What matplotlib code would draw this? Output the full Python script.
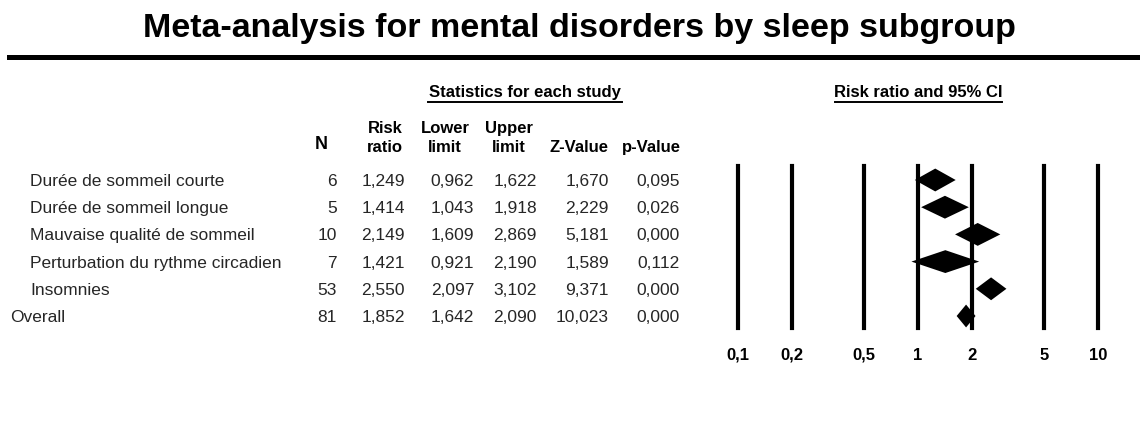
import matplotlib
matplotlib.use("Agg")
import matplotlib.pyplot as plt
from matplotlib.lines import Line2D
from matplotlib.ticker import NullLocator

plt.rcParams['font.family'] = ['Liberation Sans', 'DejaVu Sans']

# ---- data ----
subgroups = ["Durée de sommeil courte", "Durée de sommeil longue",
             "Mauvaise qualité de sommeil", "Perturbation du rythme circadien",
             "Insomnies", "Overall"]
n_studies = [6, 5, 10, 7, 53, 81]
risk_ratio = [1.249, 1.414, 2.149, 1.421, 2.550, 1.852]
lower_limit = [0.962, 1.043, 1.609, 0.921, 2.097, 1.642]
upper_limit = [1.622, 1.918, 2.869, 2.190, 3.102, 2.090]
z_value = [1.670, 2.229, 5.181, 1.589, 9.371, 10.023]
p_value = [0.095, 0.026, 0.000, 0.112, 0.000, 0.000]
axis_ticks = [0.1, 0.2, 0.5, 1, 2, 5, 10]
axis_ticklabels = ["0,1", "0,2", "0,5", "1", "2", "5", "10"]

W, H = 1140, 421
fig = plt.figure(figsize=(W / 100, H / 100), dpi=100)
fig.patch.set_facecolor("white")

def fx(px):
    return px / W

def fy(py):
    return 1 - py / H

def fmt(v):
    return f"{v:.3f}".replace(".", ",")

# title and rule
fig.text(fx(579), fy(36.5), "Meta-analysis for mental disorders by sleep subgroup",
         ha="center", va="baseline", fontsize=24.5, fontweight="bold")
fig.add_artist(Line2D([fx(9), fx(1140)], [fy(56.5), fy(56.5)], color="black", lw=3.6,
                      transform=fig.transFigure))

# section headers with underline
fig.text(fx(525), fy(97), "Statistics for each study", ha="center", va="baseline",
         fontsize=12, fontweight="bold")
fig.add_artist(Line2D([fx(428), fx(622)], [fy(102), fy(102)], color="black", lw=1.4,
                      transform=fig.transFigure))
fig.text(fx(918.5), fy(97), "Risk ratio and 95% CI", ha="center", va="baseline",
         fontsize=12, fontweight="bold")
fig.add_artist(Line2D([fx(835), fx(1002)], [fy(102), fy(102)], color="black", lw=1.4,
                      transform=fig.transFigure))

# column headers
hdr_kw = dict(ha="center", va="baseline", fontsize=12, fontweight="bold")
fig.text(fx(321), fy(149), "N", fontsize=13, ha="center", va="baseline", fontweight="bold")
for cx, l1, l2 in [(385, "Risk", "ratio"), (445, "Lower", "limit"), (509, "Upper", "limit")]:
    fig.text(fx(cx), fy(133), l1, **hdr_kw)
    fig.text(fx(cx), fy(152), l2, **hdr_kw)
fig.text(fx(579), fy(152), "Z-Value", **hdr_kw)
fig.text(fx(651), fy(152), "p-Value", **hdr_kw)

# table rows
row_y = [180 + 27.2 * i for i in range(len(subgroups))]
col_right = [337, 405, 474, 537, 609, 680]
txt_kw = dict(va="center_baseline", fontsize=12.5, color="#262626")
for i, name in enumerate(subgroups):
    y = fy(row_y[i])
    lx = 10 if name == "Overall" else 30
    fig.text(fx(lx), y, name, ha="left", **txt_kw)
    vals = [str(n_studies[i]), fmt(risk_ratio[i]), fmt(lower_limit[i]),
            fmt(upper_limit[i]), fmt(z_value[i]), fmt(p_value[i])]
    for rx, v in zip(col_right, vals):
        fig.text(fx(rx), y, v, ha="right", **txt_kw)

# forest plot
left, right, top, bottom = 737.7, 1098.0, 166, 328
ax = fig.add_axes([fx(left), fy(bottom), (right - left) / W, (bottom - top) / H])
ax.set_xscale("log")
ax.set_xlim(0.1, 10)
y_top = -(180 - top) / 27.2
y_bot = (len(subgroups) - 1) + (bottom - row_y[-1]) / 27.2
ax.set_ylim(y_bot, y_top)
for t in axis_ticks:
    ax.axvline(t, color="black", lw=3.0, clip_on=False, zorder=1)
hh = 0.42
for i in range(len(subgroups)):
    xs = [lower_limit[i], risk_ratio[i], upper_limit[i], risk_ratio[i]]
    ys = [i, i - hh, i, i + hh]
    ax.fill(xs, ys, color="black", lw=0, zorder=3, clip_on=False)
ax.set_xticks(axis_ticks)
ax.set_xticklabels(axis_ticklabels, fontweight="bold", fontsize=12)
for lab in ax.get_xticklabels():
    lab.set_verticalalignment("baseline")
ax.xaxis.set_minor_locator(NullLocator())
ax.tick_params(axis="x", length=0, pad=23)
ax.set_yticks([])
for s in ax.spines.values():
    s.set_visible(False)
ax.patch.set_alpha(0)

fig.savefig("out.png", dpi=100, facecolor="white")
